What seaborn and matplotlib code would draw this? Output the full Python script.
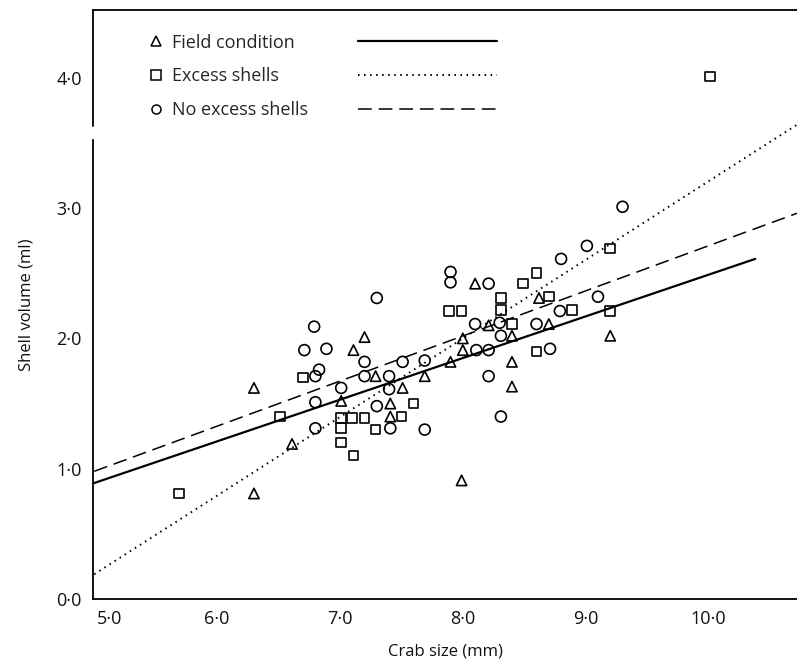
import numpy as np
import pandas as pd
import matplotlib
matplotlib.use("Agg")
import matplotlib.pyplot as plt
from matplotlib.lines import Line2D
from matplotlib.transforms import ScaledTranslation
import seaborn as sns

# ---------------- data ----------------
field_x = [6.30, 6.30, 6.61, 7.01, 7.11, 7.20, 7.29, 7.41, 7.41, 7.51, 7.69, 7.90,
           8.00, 8.00, 7.99, 8.10, 8.21, 8.40, 8.40, 8.40, 8.62, 8.70, 9.20]
field_y = [1.62, 0.81, 1.19, 1.52, 1.91, 2.01, 1.71, 1.50, 1.40, 1.62, 1.71, 1.82,
           2.00, 1.91, 0.91, 2.42, 2.10, 2.02, 1.82, 1.63, 2.31, 2.11, 2.02]

excess_x = [5.69, 6.51, 6.70, 7.01, 7.01, 7.01, 7.10, 7.11, 7.20, 7.29, 7.50, 7.60,
            7.89, 7.99, 8.31, 8.31, 8.40, 8.49, 8.60, 8.60, 8.70, 8.89, 9.20, 9.20, 10.01]
excess_y = [0.81, 1.40, 1.70, 1.39, 1.31, 1.20, 1.39, 1.10, 1.39, 1.30, 1.40, 1.50,
            2.21, 2.21, 2.31, 2.22, 2.11, 2.42, 2.50, 1.90, 2.32, 2.22, 2.69, 2.21, 4.01]

noexcess_x = [6.71, 6.79, 6.80, 6.83, 6.80, 6.80, 6.89, 7.01, 7.20, 7.20, 7.30, 7.30,
              7.40, 7.40, 7.41, 7.51, 7.69, 7.69, 7.90, 7.90, 8.10, 8.11, 8.21, 8.21,
              8.21, 8.30, 8.31, 8.31, 8.60, 8.71, 8.79, 8.80, 9.01, 9.10, 9.30]
noexcess_y = [1.91, 2.09, 1.71, 1.76, 1.51, 1.31, 1.92, 1.62, 1.82, 1.71, 2.31, 1.48,
              1.71, 1.61, 1.31, 1.82, 1.83, 1.30, 2.51, 2.43, 2.11, 1.91, 2.42, 1.91,
              1.71, 2.12, 2.02, 1.40, 2.11, 1.92, 2.21, 2.61, 2.71, 2.32, 3.01]

# fitted regression lines (end points)
field_line_x = [5.00, 10.38]
field_line_y = [0.89, 2.61]
excess_line_x = [5.00, 10.72]
excess_line_y = [0.19, 3.64]
noexcess_line_x = [5.00, 10.72]
noexcess_line_y = [0.98, 2.96]

series_labels = ["Field condition", "Excess shells", "No excess shells"]
x_ticks = [5, 6, 7, 8, 9, 10]
x_tick_labels = ["5·0", "6·0", "7·0", "8·0", "9·0", "10·0"]
y_ticks = [0, 1, 2, 3, 4]
y_tick_labels = ["0·0", "1·0", "2·0", "3·0", "4·0"]
x_label = "Crab size (mm)"
y_label = "Shell volume (ml)"

# ---------------- plotting ----------------
sns.set_theme(style="white")
plt.rcParams["font.family"] = ["Open Sans", "DejaVu Sans"]

fig = plt.figure(figsize=(7.97, 6.59), dpi=100)
ax = fig.add_axes([93 / 797, 60 / 659, 1 - 93 / 797, 589 / 659])

df_pts = pd.concat([
    pd.DataFrame({"x": field_x, "y": field_y, "grp": series_labels[0]}),
    pd.DataFrame({"x": excess_x, "y": excess_y, "grp": series_labels[1]}),
    pd.DataFrame({"x": noexcess_x, "y": noexcess_y, "grp": series_labels[2]}),
])

marker_map = {series_labels[0]: "^", series_labels[1]: "s", series_labels[2]: "o"}
size_map = {series_labels[0]: 55, series_labels[1]: 48, series_labels[2]: 62}
for g, sub in df_pts.groupby("grp", sort=False):
    sns.scatterplot(data=sub, x="x", y="y", ax=ax, marker=marker_map[g],
                    s=size_map[g], facecolor="none", edgecolor="black",
                    linewidth=1.2, legend=False, zorder=3)

line_specs = [
    (field_line_x, field_line_y, "-", 1.6),
    (excess_line_x, excess_line_y, (0, (0.8, 2.3)), 1.4),
    (noexcess_line_x, noexcess_line_y, (0, (9, 4.5)), 1.1),
]
for lx, ly, ls, lw in line_specs:
    sns.lineplot(x=lx, y=ly, ax=ax, color="black", linestyle=ls, linewidth=lw,
                 legend=False, zorder=2)

ax.set_xlim(4.99, 10.72)
ax.set_ylim(0, 4.52)
ax.set_xticks(x_ticks, x_tick_labels)
ax.set_yticks(y_ticks, y_tick_labels)
ax.set_xticks(np.arange(5.5, 10.6, 1.0), minor=True)
ax.set_yticks(np.arange(0.5, 3.6, 1.0), minor=True)
ax.tick_params(axis="both", which="both", direction="in", color="black",
               labelsize=13, labelcolor="#111111")
ax.tick_params(axis="x", which="major", length=7, width=1.0, pad=8)
ax.tick_params(axis="x", which="minor", length=5, width=1.0)
ax.tick_params(axis="y", which="major", length=9, width=1.0, pad=8)
ax.tick_params(axis="y", which="minor", length=7, width=1.0)

# the first x label sits a little to the right of its tick in the original
first_lbl = ax.get_xticklabels()[0]
first_lbl.set_transform(first_lbl.get_transform() +
                        ScaledTranslation(15 / 100, 0, fig.dpi_scale_trans))

ax.set_xlabel(x_label, fontsize=12, labelpad=11, color="#111111")
ax.set_ylabel(y_label, fontsize=12, labelpad=16, color="#111111")

for side in ["left", "bottom", "top"]:
    ax.spines[side].set_visible(True)
    ax.spines[side].set_color("black")
    ax.spines[side].set_linewidth(1.3)
ax.spines["right"].set_visible(False)
# broken left axis
ax.spines["left"].set_bounds(0, 3.52)
ax.axvline(ax.get_xlim()[0], ymin=3.63 / 4.52, ymax=1, color="black", lw=1.3,
           clip_on=False)

# legend: markers with labels
mk_handles = [Line2D([], [], ls="none", marker=marker_map[g], mfc="none", mec="black",
                     mew=1.1, ms=6.5) for g in series_labels]
leg1 = ax.legend(mk_handles, series_labels, loc="upper left",
                 bbox_to_anchor=(0.068, 0.972), frameon=False, fontsize=13,
                 handlelength=0.9, handletextpad=0.45, labelspacing=0.87,
                 borderaxespad=0.0)
ax.add_artist(leg1)
ln_handles = [Line2D([], [], color="black", ls=ls, lw=lw) for _, _, ls, lw in line_specs]
ax.legend(ln_handles, ["", "", ""], loc="upper left", bbox_to_anchor=(0.366, 0.972),
          frameon=False, fontsize=13, handlelength=7.7, handletextpad=0.0,
          labelspacing=0.87, borderaxespad=0.0)

fig.savefig("out.png", dpi=100)
